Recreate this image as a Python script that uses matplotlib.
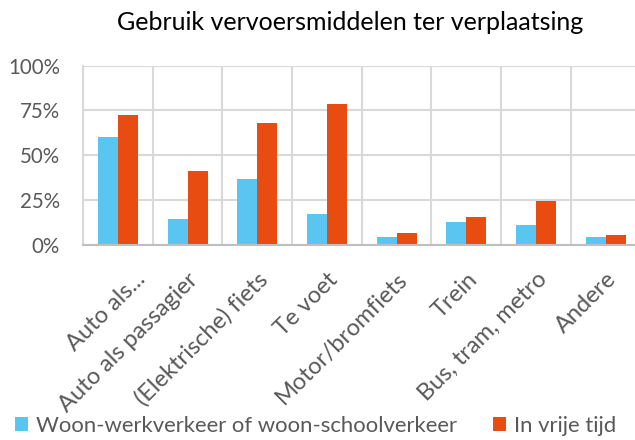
import matplotlib.pyplot as plt
import matplotlib.transforms as mtransforms
import numpy as np
from matplotlib.ticker import FixedLocator, PercentFormatter

plt.rcParams['font.family'] = ['Lato', 'DejaVu Sans']

categories = ['Auto als...', 'Auto als passagier', '(Elektrische) fiets', 'Te voet',
              'Motor/bromfiets', 'Trein', 'Bus, tram, metro', 'Andere']
woon_werk = [60, 14.5, 37, 17.5, 4.7, 13, 11.2, 4.7]
vrije_tijd = [72.7, 41, 68, 78.5, 7, 15.5, 24.5, 5.5]
series_labels = ['Woon-werkverkeer of woon-schoolverkeer', 'In vrije tijd']

blue = '#5BC5F2'
orange = '#E84C10'
grid_col = '#D9D9D9'
text_col = '#595959'

fig = plt.figure(figsize=(6.35, 4.4), dpi=100)
ax = fig.add_axes([0.1307, 0.443, 0.878, 0.408])

x = np.arange(len(categories))
w = 0.287
b1 = ax.bar(x - w / 2, woon_werk, w, color=blue, label=series_labels[0], zorder=3)
b2 = ax.bar(x + w / 2, vrije_tijd, w, color=orange, label=series_labels[1], zorder=3)

ax.set_xlim(-0.5, len(categories) - 0.5)
ax.set_ylim(0, 100)
ax.set_yticks([0, 25, 50, 75, 100])
ax.yaxis.set_major_formatter(PercentFormatter(decimals=0))
ax.set_xticks(x)
ax.set_xticklabels(categories, rotation=45, ha='right', va='top', rotation_mode='anchor')
ax.xaxis.set_minor_locator(FixedLocator(np.arange(0.5, len(categories) - 0.5, 1)))

ax.grid(axis='y', which='major', color=grid_col, linewidth=1.5, zorder=0)
ax.grid(axis='x', which='minor', color=grid_col, linewidth=1.5, zorder=0)
ax.tick_params(axis='both', which='both', length=0, colors=text_col)
ax.tick_params(axis='y', labelsize=14.8, pad=16.5)
ax.tick_params(axis='x', labelsize=17, pad=17)

# the truncated first label sits a bit further right in the original
lbl = ax.get_xticklabels()[0]
lbl.set_transform(lbl.get_transform() + mtransforms.ScaledTranslation(12 / 72, 0, fig.dpi_scale_trans))

for s in ['top', 'right']:
    ax.spines[s].set_visible(False)
ax.spines['left'].set_color(grid_col)
ax.spines['left'].set_linewidth(1.5)
ax.spines['bottom'].set_color('#BFBFBF')
ax.spines['bottom'].set_linewidth(1.5)
ax.spines['bottom'].set_zorder(4)

fig.text(0.551, 0.948, 'Gebruik vervoersmiddelen ter verplaatsing', ha='center', va='center',
         fontsize=18, color='black')

fig.legend(handles=[b1, b2], labels=series_labels, loc='lower left', bbox_to_anchor=(-0.008, -0.036),
           ncol=2, frameon=False, fontsize=15.9, labelcolor=text_col, handlelength=0.59,
           handleheight=0.59, handletextpad=0.36, columnspacing=1.63)

fig.savefig('out.png', dpi=100)
